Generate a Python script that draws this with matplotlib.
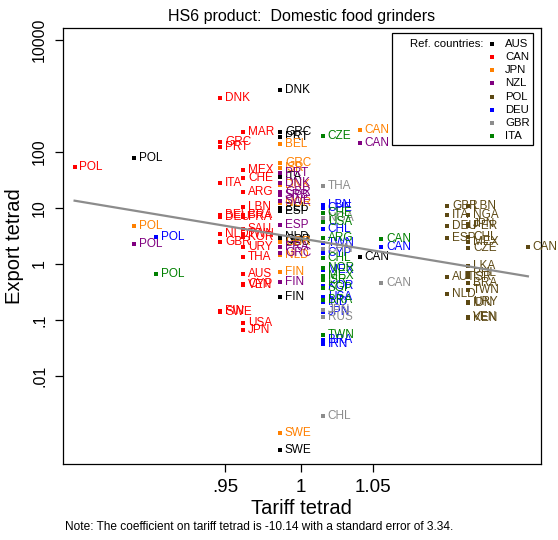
import matplotlib.pyplot as plt
import numpy as np
from matplotlib.patches import Rectangle
from matplotlib.ticker import NullLocator

plt.rcParams["font.family"] = ["Liberation Sans", "DejaVu Sans"]

W, H = 558, 540

REF_COUNTRIES = ["AUS", "CAN", "JPN", "NZL", "POL", "DEU", "GBR", "ITA"]
REF_COLORS = ["#000000", "#ff0000", "#ff8000", "#800080",
              "#5c4813", "#0000ff", "#8c8c8c", "#008000"]

# partner country, tariff tetrad and export tetrad for each reference country
AUS_PARTNERS = ["POL", "DNK", "GRC", "PRT", "ITA", "BEL", "ESP", "NLD", "GBR", "DEU",
                "FIN", "SWE", "CAN"]
AUS_TARIFF = [0.893, 0.986, 0.986, 0.986, 0.986, 0.986, 0.986, 0.986, 0.986, 0.986,
              0.986, 0.986, 1.0405]
AUS_EXPORT = [79, 1280, 228, 185, 36, 10.0, 8.8, 3.0, 2.7, 2.5,
              0.26, 0.00048, 1.35]

CAN_PARTNERS = ["POL", "DNK", "GRC", "PRT", "ITA", "BEL", "DEU", "NLD", "GBR", "FIN",
                "SWE", "MAR", "MEX", "CHE", "ARG", "LBN", "BRA", "FRA", "SAU", "TWN",
                "KOR", "URY", "THA", "AUS", "CYP", "VEN", "USA", "JPN"]
CAN_TARIFF = [0.858, 0.947, 0.947, 0.947, 0.947, 0.947, 0.947, 0.947, 0.947, 0.947,
              0.947, 0.9616, 0.9616, 0.9616, 0.9616, 0.9616, 0.9616, 0.9616, 0.9616, 0.9616,
              0.9616, 0.9616, 0.9616, 0.9616, 0.9616, 0.9616, 0.9616, 0.9616]
CAN_EXPORT = [54.6, 921, 151, 123, 27.6, 7.5, 6.8, 3.43, 2.5, 0.145,
              0.14, 228, 48, 34, 19.5, 10.5, 7.5, 6.8, 4.3, 3.43,
              3.07, 2.04, 1.32, 0.66, 0.44, 0.42, 0.087, 0.066]

JPN_PARTNERS = ["POL", "BEL", "GRC", "ISR", "DNK", "NOR", "GBR", "NLD", "FIN", "SWE", "CAN"]
JPN_TARIFF = [0.893, 0.986, 0.986, 0.986, 0.986, 0.986, 0.986, 0.986, 0.986, 0.986, 1.0405]
JPN_EXPORT = [4.8, 139, 64, 52, 25.7, 12.3, 2.5, 1.45, 0.72, 0.00097, 247]

NZL_PARTNERS = ["POL", "PRT", "DNK", "GBR", "SRB", "SWE", "ESP", "FRA", "GRC", "FIN", "CAN"]
NZL_TARIFF = [0.893, 0.986, 0.986, 0.986, 0.986, 0.986, 0.986, 0.986, 0.986, 0.986, 1.0405]
NZL_EXPORT = [2.28, 42, 28, 19.3, 17, 13.3, 5.0, 2.0, 1.57, 0.48, 145]

POL_PARTNERS = ["GBR", "ITA", "DEU", "ESP", "AUT", "NLD", "LBN", "NGA", "JPN", "PER",
                "CHL", "MEX", "CZE", "LKA", "PHL", "ISR", "BRA", "TWN", "URY", "IDN",
                "VEN", "KEN", "CAN"]
POL_TARIFF = [1.104, 1.104, 1.104, 1.104, 1.104, 1.104, 1.120, 1.120, 1.120, 1.120,
              1.120, 1.120, 1.120, 1.120, 1.120, 1.120, 1.120, 1.120, 1.120, 1.120,
              1.120, 1.120, 1.166]
POL_EXPORT = [10.9, 7.5, 4.8, 2.88, 0.59, 0.29, 10.9, 7.5, 5.2, 4.8,
              3.07, 2.5, 1.9, 0.92, 0.70, 0.58, 0.46, 0.35, 0.21, 0.20,
              0.112, 0.109, 1.99]

DEU_PARTNERS = ["POL", "LBN", "CHE", "CHL", "TWN", "CYP", "MEX", "KOR", "USA", "IND",
                "JPN", "BRA", "IRN", "CAN"]
DEU_TARIFF = [0.9066, 1.015, 1.015, 1.015, 1.015, 1.015, 1.015, 1.015, 1.015, 1.015,
              1.015, 1.015, 1.015, 1.056]
DEU_EXPORT = [3.07, 11.3, 9.9, 4.3, 2.34, 1.55, 0.78, 0.40, 0.26, 0.21,
              0.14, 0.044, 0.037, 1.99]

GBR_PARTNERS = ["THA", "NGA", "CHN", "JPN", "RUS", "CHL", "CAN"]
GBR_TARIFF = [1.015, 1.015, 1.015, 1.015, 1.015, 1.015, 1.056]
GBR_EXPORT = [24.7, 6.5, 1.83, 0.15, 0.112, 0.00193, 0.46]

ITA_PARTNERS = ["POL", "CZE", "CHE", "USA", "ARG", "CHL", "NOR", "MEX", "ISR", "SGP",
                "BRA", "TWN", "CAN"]
ITA_TARIFF = [0.9066, 1.015, 1.015, 1.015, 1.015, 1.015, 1.015, 1.015, 1.015, 1.015,
              1.015, 1.015, 1.056]
ITA_EXPORT = [0.65, 195, 8.0, 5.7, 2.95, 1.26, 0.84, 0.61, 0.52, 0.37,
              0.23, 0.054, 2.76]

# fitted line: log export tetrad on log tariff tetrad
COEF = -10.14
SE = 3.34
FIT_AT_ONE = 2.86

Y_TICKS = [10000, 100, 10, 1, 0.1, 0.01]
Y_TICKLABELS = ["10000", "100", "10", "1", ".1", ".01"]
X_TICKS = [0.95, 1.0, 1.05]
X_TICKLABELS = [".95", "1", "1.05"]

groups = [
    (AUS_PARTNERS, AUS_TARIFF, AUS_EXPORT),
    (CAN_PARTNERS, CAN_TARIFF, CAN_EXPORT),
    (JPN_PARTNERS, JPN_TARIFF, JPN_EXPORT),
    (NZL_PARTNERS, NZL_TARIFF, NZL_EXPORT),
    (POL_PARTNERS, POL_TARIFF, POL_EXPORT),
    (DEU_PARTNERS, DEU_TARIFF, DEU_EXPORT),
    (GBR_PARTNERS, GBR_TARIFF, GBR_EXPORT),
    (ITA_PARTNERS, ITA_TARIFF, ITA_EXPORT),
]


def fig_px(px, py):
    return px / W, 1 - py / H


fig = plt.figure(figsize=(W / 100, H / 100), dpi=100)
ax = fig.add_axes([62.5 / W, 1 - 464 / H, 478 / W, 436.3 / H])
ax.set_xscale("log")
ax.set_yscale("log")
ax.set_xlim(0.851, 1.176)
ax.set_ylim(0.000268, 16600)

for (partners, tariff, export), color in zip(groups, REF_COLORS):
    ax.plot(tariff, export, "s", ms=3, mew=0, color=color, ls="none", zorder=3)
    for name, x, y in zip(partners, tariff, export):
        ax.annotate(name, (x, y), xytext=(3.5, 0), textcoords="offset points",
                    va="center", ha="left", fontsize=8.5, color=color, zorder=3)

# regression line across the range of tariff tetrads
all_x = np.concatenate([t for _, t, _ in groups])
xs = np.array([all_x.min(), all_x.max()])
ax.plot(xs, FIT_AT_ONE * xs ** COEF, color="#8c8c8c", lw=1.6, zorder=4)

ax.xaxis.set_minor_locator(NullLocator())
ax.yaxis.set_minor_locator(NullLocator())
ax.set_xticks(X_TICKS)
ax.set_xticklabels(X_TICKLABELS, fontsize=13.5)
ax.set_yticks(Y_TICKS)
ax.set_yticklabels(Y_TICKLABELS, fontsize=11.5, rotation=90, va="center")
ax.tick_params(length=6, width=0.9, pad=5)
for sp in ax.spines.values():
    sp.set_linewidth(0.9)

ax.set_xlabel("Tariff tetrad", fontsize=14.5, labelpad=2)
ax.set_ylabel("Export tetrad", fontsize=14.5, labelpad=6)

fig.text(*fig_px(301.5, 16), "HS6 product:  Domestic food grinders",
         ha="center", va="center", fontsize=11.5)
fig.text(*fig_px(65, 527), "Note: The coefficient on tariff tetrad is "
         f"{COEF:.2f} with a standard error of {SE:.2f}.",
         ha="left", va="center", fontsize=8.6)

# legend of reference countries
x0, y0 = fig_px(392, 145)
x1, y1 = fig_px(533, 33)
fig.patches.append(Rectangle((x0, y0), x1 - x0, y1 - y0, transform=fig.transFigure,
                             facecolor="white", edgecolor="black", lw=0.9, zorder=5))
fig.text(*fig_px(484, 44), "Ref. countries:", ha="right", va="center", fontsize=8.2,
         zorder=6)
for i, (name, color) in enumerate(zip(REF_COUNTRIES, REF_COLORS)):
    row = 44 + 13.14 * i
    fig.lines.append(plt.Line2D([fig_px(492, row)[0]], [fig_px(492, row)[1]],
                                marker="s", ms=3, mew=0, color=color, ls="none",
                                transform=fig.transFigure, zorder=6))
    fig.text(*fig_px(505, row), name, ha="left", va="center", fontsize=8.2, zorder=6)

fig.savefig("out.png", dpi=100)
